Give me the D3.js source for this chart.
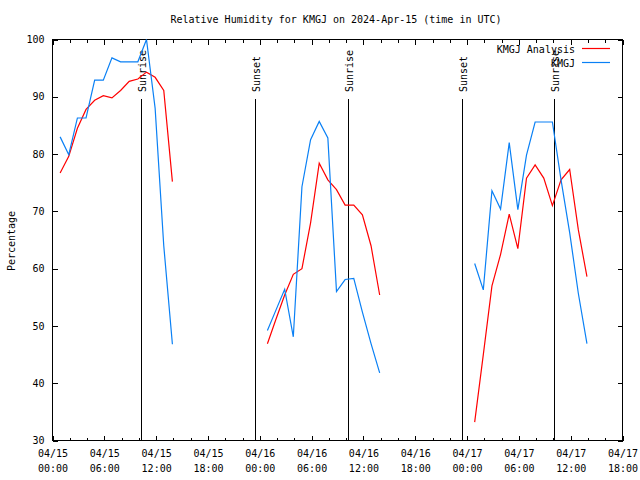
<!DOCTYPE html>
<html>
<head>
<meta charset="utf-8">
<script src="https://cdn.jsdelivr.net/npm/d3@7"></script>
<style>
  body { margin: 0; background: #fff; }
  svg { display: block; }
  text { font-family: "DejaVu Sans Mono", "Liberation Mono", monospace; font-size: 10px; fill: #000; }
</style>
</head>
<body>
<svg id="chart" width="640" height="480"></svg>
<script>
// ---- data ----
const titleText = "Relative Humidity for KMGJ on 2024-Apr-15 (time in UTC)";
const yLabel = "Percentage";
const days = ["2024-04-15", "2024-04-16", "2024-04-17"];
const obsHours = ["00:53","01:53","02:53","03:53","04:53","05:53","06:53",
                  "07:53","08:53","09:53","10:53","11:53","12:53","13:53"];
const analysisDay1 = [76.7, 79.6, 84.5, 87.8, 89.4, 90.2, 89.8, 91.1, 92.7, 93.1, 94.3, 93.4, 91.1, 75.2];
const analysisDay2 = [46.9, 51.2, 55.4, 59.0, 60.0, 68.0, 78.4, 75.5, 73.8, 71.1, 71.1, 69.4, 64.0, 55.4];
const analysisDay3 = [33.2, 45.0, 57.0, 62.5, 69.5, 63.5, 75.8, 78.1, 75.8, 71.0, 75.5, 77.3, 66.8, 58.6];
const kmgjDay1 = [83.0, 79.9, 86.3, 86.3, 92.9, 92.9, 96.8, 96.1, 96.1, 96.1, 100.0, 88.0, 64.0, 46.8];
const kmgjDay2 = [49.2, 52.8, 56.4, 48.1, 74.3, 82.5, 85.7, 82.8, 56.0, 58.1, 58.3, 52.4, 46.9, 41.8];
const kmgjDay3 = [60.9, 56.3, 73.6, 70.4, 82.0, 70.3, 79.8, 85.6, 85.6, 85.6, 75.5, 66.3, 55.7, 46.9];
const eventLabels = ["Sunrise", "Sunset", "Sunrise", "Sunset", "Sunrise"];
const eventTimes = ["2024-04-15T10:15Z", "2024-04-15T23:27Z", "2024-04-16T10:13Z", "2024-04-16T23:25Z", "2024-04-17T10:04Z"];
const seriesNames = ["KMGJ Analysis", "KMGJ"];
const seriesColors = ["#ff0000", "#0a80f5"];
const xStart = "2024-04-15T00:00Z", xEnd = "2024-04-17T18:00Z";
const yMin = 30, yMax = 100, yStep = 10;

// ---- layout ----
const L = 52.5, R = 622.5, T = 39.5, B = 440.5;
const svg = d3.select("#chart");

const x = d3.scaleUtc().domain([new Date(xStart), new Date(xEnd)]).range([L, R]);
const y = d3.scaleLinear().domain([yMin, yMax]).range([B, T]);

function build(vals, dayIdx) {
  return vals.map((v, i) => ({ t: new Date(days[dayIdx] + "T" + obsHours[i] + "Z"), v }));
}
const analysis = [build(analysisDay1, 0), build(analysisDay2, 1), build(analysisDay3, 2)];
const kmgj = [build(kmgjDay1, 0), build(kmgjDay2, 1), build(kmgjDay3, 2)];

// title
svg.append("text").attr("x", 336).attr("y", 23).attr("text-anchor", "middle").text(titleText);
// y label
svg.append("text").attr("transform", "translate(15,241) rotate(-90)").attr("text-anchor", "middle").text(yLabel);

const majorX = x.ticks(d3.utcHour.every(6));
const minorX = x.ticks(d3.utcHour.every(2));
const yTicks = d3.range(yMin, yMax + 0.001, yStep);
const fmtDate = d3.utcFormat("%m/%d"), fmtTime = d3.utcFormat("%H:%M");

function clean(g) { g.select(".domain").remove(); g.selectAll("line").attr("stroke", "#000").attr("shape-rendering", "crispEdges"); }

// bottom axis (major, with labels)
const gb = svg.append("g").attr("transform", `translate(0,${B})`)
  .call(d3.axisBottom(x).tickValues(majorX).tickSizeInner(-5).tickSizeOuter(0).tickPadding(8).tickFormat(""))
  .call(clean);
gb.selectAll(".tick text").remove();
gb.selectAll(".tick").append("text")
  .attr("text-anchor", "middle").attr("y", 16)
  .style("font-family", '"DejaVu Sans Mono", monospace').style("font-size", "10px")
  .each(function(d) {
    const t = d3.select(this);
    t.append("tspan").attr("x", 0).attr("dy", 0).text(fmtDate(d));
    t.append("tspan").attr("x", 0).attr("dy", 15).text(fmtTime(d));
  });
// bottom minor
svg.append("g").attr("transform", `translate(0,${B})`)
  .call(d3.axisBottom(x).tickValues(minorX.filter(d => d.getUTCHours() % 6 !== 0)).tickSizeInner(-3).tickSizeOuter(0).tickFormat(""))
  .call(clean);
// top axis major + minor
svg.append("g").attr("transform", `translate(0,${T})`)
  .call(d3.axisTop(x).tickValues(majorX).tickSizeInner(-5).tickSizeOuter(0).tickFormat(""))
  .call(clean);
svg.append("g").attr("transform", `translate(0,${T})`)
  .call(d3.axisTop(x).tickValues(minorX.filter(d => d.getUTCHours() % 6 !== 0)).tickSizeInner(-3).tickSizeOuter(0).tickFormat(""))
  .call(clean);
// left axis
const gl = svg.append("g").attr("transform", `translate(${L},0)`)
  .call(d3.axisLeft(y).tickValues(yTicks).tickSizeInner(-5).tickSizeOuter(0).tickPadding(8).tickFormat(d3.format("d")))
  .call(clean);
gl.selectAll(".tick text").style("font-family", '"DejaVu Sans Mono", monospace').style("font-size", "10px").attr("fill", "#000");
// right axis
svg.append("g").attr("transform", `translate(${R},0)`)
  .call(d3.axisRight(y).tickValues(yTicks).tickSizeInner(-5).tickSizeOuter(0).tickFormat(""))
  .call(clean);

// border
svg.append("rect").attr("x", L).attr("y", T).attr("width", R - L).attr("height", B - T)
  .attr("fill", "none").attr("stroke", "#000").attr("shape-rendering", "crispEdges");

// event lines
eventTimes.forEach((et, i) => {
  const ex = Math.round(x(new Date(et))) + 0.5;
  svg.append("line").attr("x1", ex).attr("x2", ex).attr("y1", y(90) + 2).attr("y2", B)
    .attr("stroke", "#000").attr("shape-rendering", "crispEdges");
  svg.append("text").attr("transform", `translate(${ex + 4},92) rotate(-90)`)
    .attr("text-anchor", "start").text(eventLabels[i]);
});

// series lines
const line = d3.line().x(d => x(d.t)).y(d => y(d.v));
[analysis, kmgj].forEach((segs, si) => {
  segs.forEach(seg => {
    svg.append("path").datum(seg).attr("d", line)
      .attr("fill", "none").attr("stroke", seriesColors[si]).attr("stroke-width", 1.2);
  });
});

// legend
seriesNames.forEach((name, i) => {
  const ly = 49 + i * 14;
  svg.append("text").attr("x", 575).attr("y", ly + 3.5).attr("text-anchor", "end").text(name);
  svg.append("line").attr("x1", 582).attr("x2", 610).attr("y1", ly - 0.5).attr("y2", ly - 0.5)
    .attr("stroke", seriesColors[i]).attr("stroke-width", 1.2);
});
</script>
</body>
</html>
